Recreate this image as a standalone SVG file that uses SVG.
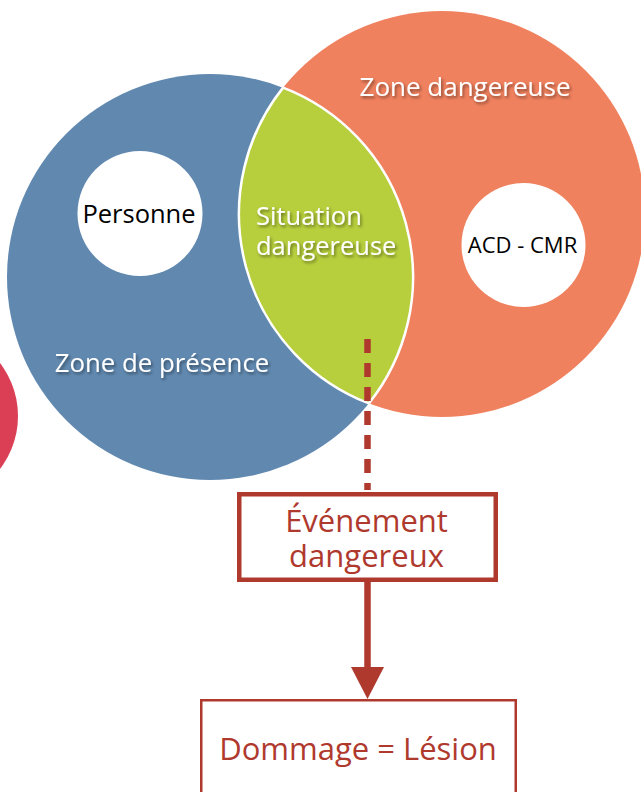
<svg xmlns="http://www.w3.org/2000/svg" width="641" height="792" viewBox="0 0 641 792">
<defs>
<style>
text{font-family:"Open Sans","Noto Sans","DejaVu Sans",sans-serif;}
.wt{fill:#ffffff;filter:url(#sh);}
.bk{fill:#000000;}
.rt{fill:#B0392E;}
</style>
<filter id="sh" x="-10%" y="-30%" width="130%" height="180%">
<feDropShadow dx="1.5" dy="2" stdDeviation="1.5" flood-color="#000" flood-opacity="0.45"/>
</filter>
</defs>
<rect width="641" height="792" fill="#ffffff"/>
<g id="zone-rouge">
<circle cx="-69" cy="416" r="87" fill="#DA3F55"/>
</g>
<g id="zone-presence">
<circle cx="210" cy="277" r="203" fill="#6189B0"/>
</g>
<g id="zone-dangereuse">
<circle cx="442" cy="214" r="203" fill="#F0815E"/>
</g>
<g id="situation-dangereuse">
<path d="M283.1 87.6 A203 203 0 0 0 368.9 403.4 A203 203 0 0 0 283.1 87.6 Z" fill="#B7CF3D" stroke="#ffffff" stroke-width="2.5"/>
</g>
<g id="personne">
<circle cx="140" cy="213.5" r="62.5" fill="#ffffff"/>
<text class="bk" x="139" y="223" font-size="25.5" text-anchor="middle">Personne</text>
</g>
<g id="acd-cmr">
<circle cx="523.5" cy="245" r="62" fill="#ffffff"/>
<text class="bk" x="522.5" y="253" font-size="22" text-anchor="middle">ACD - CMR</text>
</g>
<g id="labels">
<text class="wt" x="465" y="96" font-size="26" text-anchor="middle">Zone dangereuse</text>
<text class="wt" x="162" y="372" font-size="25.8" text-anchor="middle">Zone de présence</text>
<text class="wt" font-size="25.5"><tspan x="256" y="225">Situation</tspan><tspan x="256" y="255">dangereuse</tspan></text>
</g>
<g id="connectors">
<line x1="367.5" y1="339" x2="367.5" y2="490" stroke="#B0392E" stroke-width="6.5" stroke-dasharray="14 10"/>
<line x1="367.5" y1="582" x2="367.5" y2="670" stroke="#B0392E" stroke-width="6.5"/>
<polygon points="351,667 384,667 367.5,699" fill="#B0392E"/>
</g>
<g id="evenement">
<rect x="239.25" y="494.25" width="256.5" height="85.5" fill="#ffffff" stroke="#B0392E" stroke-width="4.5"/>
<text class="rt" font-size="31" text-anchor="middle"><tspan x="366.5" y="532">Événement</tspan><tspan x="366.5" y="567">dangereux</tspan></text>
</g>
<g id="dommage">
<rect x="201.25" y="700.25" width="314.5" height="120" fill="#ffffff" stroke="#B0392E" stroke-width="2.5"/>
<text class="rt" x="358" y="760" font-size="31" text-anchor="middle">Dommage = Lésion</text>
</g>
</svg>
